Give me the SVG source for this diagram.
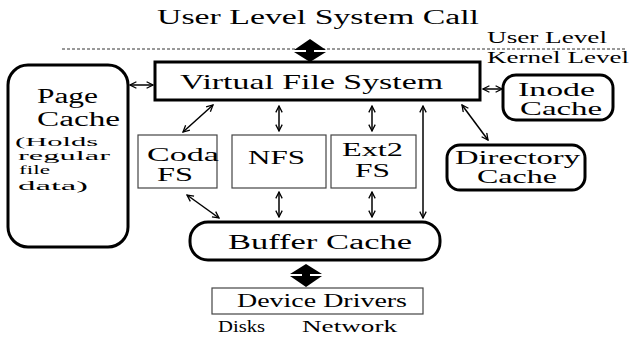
<svg xmlns="http://www.w3.org/2000/svg" width="634" height="342" viewBox="0 0 634 342">
<style>
  text { font-family: "Liberation Serif", "Times New Roman", serif; fill: #000; }
  .thick { fill: #fff; stroke: #000; stroke-width: 3; }
  .thin { fill: #fff; stroke: #444; stroke-width: 1.2; }
  .conn { stroke: #000; stroke-width: 1.5; fill: none; marker-start: url(#ah); marker-end: url(#ah); }
  .block { fill: #000; stroke: none; }
</style>
<defs>
  <marker id="ah" viewBox="0 0 10 10" refX="9" refY="5" markerWidth="8" markerHeight="8" markerUnits="userSpaceOnUse" orient="auto-start-reverse">
    <path d="M1,1 L9,5 L1,9" fill="none" stroke="#000" stroke-width="1.6"/>
  </marker>
</defs>
<rect width="634" height="342" fill="#fff"/>

<g id="title">
  <text x="157" y="24" font-size="20" textLength="322" lengthAdjust="spacingAndGlyphs">User Level System Call</text>
</g>
<g id="levels">
  <line x1="62" y1="49" x2="626" y2="49" stroke="#333" stroke-width="1" stroke-dasharray="3,2"/>
  <text x="487" y="43" font-size="16" textLength="120" lengthAdjust="spacingAndGlyphs">User Level</text>
  <text x="487" y="63" font-size="16" textLength="142" lengthAdjust="spacingAndGlyphs">Kernel Level</text>
</g>

<g id="vfs">
  <rect class="thick" x="155" y="62" width="325" height="38"/>
  <text x="180" y="89" font-size="22" textLength="263" lengthAdjust="spacingAndGlyphs">Virtual File System</text>
</g>

<g id="page-cache">
  <rect class="thick" x="8" y="65" width="120" height="182" rx="20" ry="20"/>
  <text x="37" y="103" font-size="20" textLength="61" lengthAdjust="spacingAndGlyphs">Page</text>
  <text x="37" y="126" font-size="20" textLength="83" lengthAdjust="spacingAndGlyphs">Cache</text>
  <text x="15" y="146" font-size="13" textLength="83" lengthAdjust="spacingAndGlyphs">(Holds</text>
  <text x="18" y="160" font-size="13" textLength="92" lengthAdjust="spacingAndGlyphs">regular</text>
  <text x="19" y="174" font-size="13" textLength="31" lengthAdjust="spacingAndGlyphs">file</text>
  <text x="18" y="190" font-size="13" textLength="70" lengthAdjust="spacingAndGlyphs">data)</text>
</g>

<g id="inode-cache">
  <rect class="thick" x="503" y="75" width="110" height="45" rx="13" ry="13"/>
  <text x="518" y="96" font-size="18" textLength="77" lengthAdjust="spacingAndGlyphs">Inode</text>
  <text x="520" y="115" font-size="18" textLength="82" lengthAdjust="spacingAndGlyphs">Cache</text>
</g>

<g id="directory-cache">
  <rect class="thick" x="447" y="145" width="138" height="45" rx="13" ry="13"/>
  <text x="455" y="164" font-size="18" textLength="125" lengthAdjust="spacingAndGlyphs">Directory</text>
  <text x="477" y="183" font-size="18" textLength="80" lengthAdjust="spacingAndGlyphs">Cache</text>
</g>

<g id="coda-fs">
  <rect class="thin" x="138" y="135" width="79" height="53"/>
  <text x="147" y="161" font-size="18" textLength="72" lengthAdjust="spacingAndGlyphs">Coda</text>
  <text x="157" y="181" font-size="18" textLength="36" lengthAdjust="spacingAndGlyphs">FS</text>
</g>

<g id="nfs">
  <rect class="thin" x="232" y="135" width="94" height="53"/>
  <text x="248" y="164" font-size="19" textLength="57" lengthAdjust="spacingAndGlyphs">NFS</text>
</g>

<g id="ext2-fs">
  <rect class="thin" x="331" y="135" width="85" height="53"/>
  <text x="342" y="156" font-size="18" textLength="61" lengthAdjust="spacingAndGlyphs">Ext2</text>
  <text x="355" y="177" font-size="18" textLength="35" lengthAdjust="spacingAndGlyphs">FS</text>
</g>

<g id="buffer-cache">
  <rect class="thick" x="190" y="222" width="250" height="38" rx="18" ry="18"/>
  <text x="228" y="249" font-size="20" textLength="184" lengthAdjust="spacingAndGlyphs">Buffer Cache</text>
</g>

<g id="device-drivers">
  <rect class="thin" x="212" y="288" width="211" height="26"/>
  <text x="237" y="307" font-size="18" textLength="170" lengthAdjust="spacingAndGlyphs">Device Drivers</text>
</g>

<g id="devices">
  <text x="218" y="332" font-size="16" textLength="47" lengthAdjust="spacingAndGlyphs">Disks</text>
  <text x="302" y="332" font-size="16" textLength="95" lengthAdjust="spacingAndGlyphs">Network</text>
</g>

<g id="connectors">
  <path class="block" d="M310,39 L326,50 L314,50 L314,52 L326,52 L310,62 L294,52 L306,52 L306,50 L294,50 Z"/>
  <path class="block" d="M306,264 L322,274 L310,274 L310,276 L322,276 L306,287 L290,276 L302,276 L302,274 L290,274 Z"/>
  <line class="conn" x1="130" y1="85" x2="153" y2="85"/>
  <line class="conn" x1="483" y1="89" x2="502" y2="89"/>
  <line class="conn" x1="213" y1="105" x2="183" y2="132"/>
  <line class="conn" x1="279" y1="106" x2="279" y2="131"/>
  <line class="conn" x1="372" y1="106" x2="372" y2="131"/>
  <line class="conn" x1="423" y1="106" x2="423" y2="218"/>
  <line class="conn" x1="462" y1="105" x2="488" y2="140"/>
  <line class="conn" x1="187" y1="195" x2="219" y2="218"/>
  <line class="conn" x1="279" y1="192" x2="279" y2="217"/>
  <line class="conn" x1="372" y1="192" x2="372" y2="217"/>
</g>
</svg>
